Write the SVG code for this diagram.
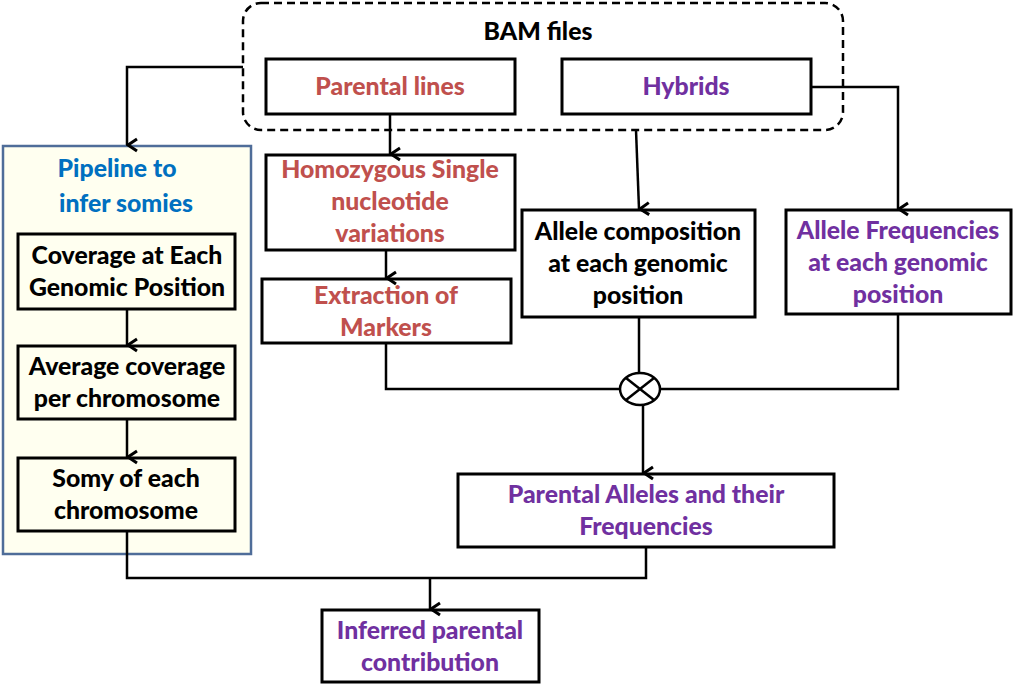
<svg xmlns="http://www.w3.org/2000/svg" width="1022" height="685" viewBox="0 0 1022 685">
<defs>
<style>
.box{fill:#fff;stroke:#000;stroke-width:3}
.ibox{fill:#FFFFF0;stroke:#000;stroke-width:3}
.c{fill:none;stroke:#000;stroke-width:2.5}
text{font-family:Lato,"Liberation Sans",sans-serif;font-weight:900;font-size:24.8px;text-anchor:middle}
.red{fill:#C0504D}.pur{fill:#7030A0}.blu{fill:#0070C0}.blk{fill:#000}
</style>
<marker id="ah" viewBox="0 0 16 14" refX="8" refY="13" markerWidth="16" markerHeight="14" markerUnits="userSpaceOnUse" orient="auto-start-reverse">
<polyline points="2,3 8,12 14,3" fill="none" stroke="#000" stroke-width="3"/>
</marker>
</defs>
<rect width="1022" height="685" fill="#fff"/>
<g id="bam">
<rect x="243" y="3" width="600" height="127" rx="18" fill="none" stroke="#000" stroke-width="2.5" stroke-dasharray="8,5"/>
<text x="538" y="40" class="blk">BAM files</text>
</g>
<g id="parental">
<rect class="box" x="266" y="59" width="249" height="55"/>
<text x="390" y="95" class="red">Parental lines</text>
</g>
<g id="hybrids">
<rect class="box" x="562" y="59" width="249" height="55"/>
<text x="686" y="95" class="pur">Hybrids</text>
</g>
<g id="pipeline">
<rect x="3" y="146" width="248" height="408" fill="#FFFFF0" stroke="#4F6D99" stroke-width="2.5"/>
<text x="117" y="177" class="blu">Pipeline to</text>
<text x="126" y="212" class="blu">infer somies</text>
</g>
<g id="coverage">
<rect class="ibox" x="18" y="234" width="217" height="75"/>
<text x="127" y="264" class="blk">Coverage at Each</text>
<text x="127" y="296" class="blk">Genomic Position</text>
</g>
<g id="average">
<rect class="ibox" x="18" y="346" width="217" height="73"/>
<text x="127" y="375" class="blk">Average coverage</text>
<text x="127" y="407" class="blk">per chromosome</text>
</g>
<g id="somy">
<rect class="ibox" x="18" y="458" width="217" height="73"/>
<text x="126" y="487" class="blk">Somy of each</text>
<text x="126" y="519" class="blk">chromosome</text>
</g>
<g id="homozygous">
<rect class="box" x="266" y="155" width="249" height="95"/>
<text x="390" y="178" class="red">Homozygous Single</text>
<text x="390" y="210" class="red">nucleotide</text>
<text x="390" y="242" class="red">variations</text>
</g>
<g id="extraction">
<rect class="box" x="262" y="279" width="249" height="64"/>
<text x="386" y="304" class="red">Extraction of</text>
<text x="386" y="336" class="red">Markers</text>
</g>
<g id="composition">
<rect class="box" x="522" y="210" width="233" height="107"/>
<text x="638" y="240" class="blk">Allele composition</text>
<text x="638" y="272" class="blk">at each genomic</text>
<text x="638" y="304" class="blk">position</text>
</g>
<g id="frequencies">
<rect class="box" x="786" y="210" width="225" height="104"/>
<text x="898" y="239" class="pur">Allele Frequencies</text>
<text x="898" y="271" class="pur">at each genomic</text>
<text x="898" y="303" class="pur">position</text>
</g>
<g id="combine">
<ellipse cx="640" cy="389" rx="20" ry="16" fill="#fff" stroke="#000" stroke-width="2.5"/>
<line x1="626" y1="378" x2="654" y2="400" stroke="#000" stroke-width="2.5"/>
<line x1="654" y1="378" x2="626" y2="400" stroke="#000" stroke-width="2.5"/>
</g>
<g id="alleles">
<rect class="box" x="458" y="474" width="376" height="73"/>
<text x="646" y="503" class="pur">Parental Alleles and their</text>
<text x="646" y="535" class="pur">Frequencies</text>
</g>
<g id="inferred">
<rect class="box" x="322" y="610" width="217" height="72"/>
<text x="430" y="639" class="pur">Inferred parental</text>
<text x="430" y="671" class="pur">contribution</text>
</g>
<g id="connectors">
<polyline class="c" points="243,67 127,67 127,145" marker-end="url(#ah)"/>
<line class="c" x1="390" y1="114" x2="390" y2="154" marker-end="url(#ah)"/>
<line class="c" x1="636" y1="130" x2="639" y2="209" marker-end="url(#ah)"/>
<polyline class="c" points="811,87 898,87 898,209" marker-end="url(#ah)"/>
<line class="c" x1="127" y1="309" x2="127" y2="345" marker-end="url(#ah)"/>
<line class="c" x1="127" y1="419" x2="127" y2="457" marker-end="url(#ah)"/>
<line class="c" x1="386" y1="250" x2="386" y2="278" marker-end="url(#ah)"/>
<polyline class="c" points="386,343 386,389 620,389"/>
<line class="c" x1="639" y1="317" x2="639" y2="373"/>
<polyline class="c" points="898,314 898,389 660,389"/>
<line class="c" x1="643" y1="405" x2="643" y2="473" marker-end="url(#ah)"/>
<polyline class="c" points="127,531 127,578 646,578 646,547"/>
<line class="c" x1="430" y1="578" x2="430" y2="609" marker-end="url(#ah)"/>
</g>
</svg>
